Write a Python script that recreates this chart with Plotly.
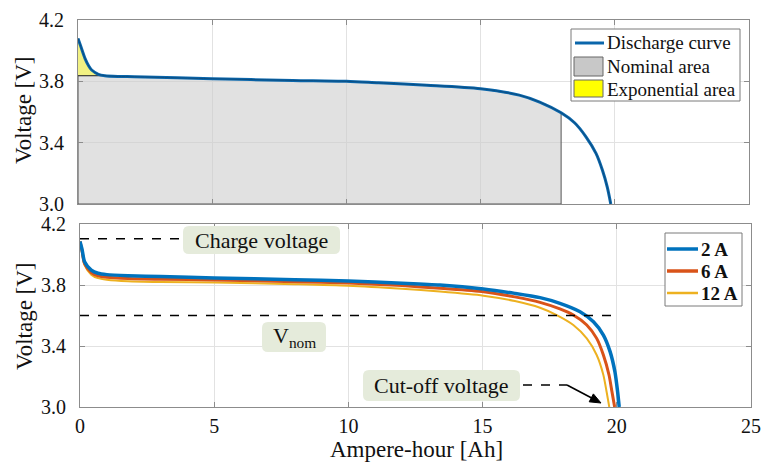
import plotly.graph_objects as go

# ---------------- data ----------------
# Top panel: discharge curve (Ah, V)
top_ah = [0.00, 0.10, 0.26, 0.40, 0.51, 0.76, 1.00, 1.50, 2.10, 5.00, 8.00, 10.00,
          11.20, 13.00, 15.00, 16.44, 17.20, 18.00, 18.50, 18.92, 19.30, 19.54, 19.72, 19.85]
top_v = [4.080, 4.030, 3.950, 3.900, 3.874, 3.846, 3.837, 3.832, 3.830, 3.817, 3.806, 3.800,
         3.790, 3.775, 3.752, 3.710, 3.665, 3.595, 3.530, 3.440, 3.330, 3.220, 3.110, 3.000]
nominal_end_ah = 18.0
exp_end_ah = 1.0
exp_level_v = 3.837
v_min = 3.0

# Bottom panel: discharge curves at different currents
ah_2a = [0.00, 0.08, 0.17, 0.42, 0.67, 1.00, 1.79, 3.00, 5.00, 8.00, 10.00, 12.00, 13.41, 15.03,
         16.20, 17.14, 17.88, 18.63, 19.13, 19.50, 19.75, 19.93, 20.03, 20.09]
v_2a = [4.085, 4.030, 3.953, 3.898, 3.877, 3.868, 3.861, 3.855, 3.846, 3.835, 3.826, 3.812, 3.800, 3.774,
        3.745, 3.717, 3.680, 3.625, 3.559, 3.472, 3.363, 3.231, 3.100, 3.000]
ah_6a = [0.00, 0.08, 0.17, 0.42, 0.67, 1.00, 1.79, 3.00, 5.00, 8.00, 10.00, 12.00, 13.41, 15.03,
         16.20, 17.14, 17.88, 18.38, 18.88, 19.25, 19.50, 19.71, 19.82, 19.92]
v_6a = [4.085, 4.020, 3.940, 3.882, 3.860, 3.851, 3.843, 3.838, 3.833, 3.822, 3.813, 3.796, 3.778, 3.756,
        3.722, 3.686, 3.643, 3.603, 3.538, 3.450, 3.341, 3.210, 3.100, 3.000]
ah_12a = [0.00, 0.08, 0.17, 0.42, 0.67, 1.00, 1.79, 3.00, 5.00, 8.00, 10.00, 12.00, 13.41, 15.03,
          16.20, 17.14, 17.76, 18.38, 18.88, 19.25, 19.50, 19.62, 19.72]
v_12a = [4.085, 4.010, 3.930, 3.868, 3.845, 3.835, 3.825, 3.820, 3.816, 3.805, 3.795, 3.775, 3.757, 3.730,
         3.695, 3.651, 3.603, 3.538, 3.450, 3.341, 3.210, 3.100, 3.000]

series_names = ["2 A", "6 A", "12 A"]
top_legend_names = ["Discharge curve", "Nominal area", "Exponential area"]

charge_v = 4.104
charge_line_end = 3.8
vnom_v = 3.6
vnom_line_end = 19.8

x_ticks = [0, 5, 10, 15, 20, 25]
y_ticks = [3.0, 3.4, 3.8, 4.2]
y_tick_text = ["3.0", "3.4", "3.8", "4.2"]

# ---------------- figure ----------------
FONT = "Liberation Serif, Times New Roman, DejaVu Serif, serif"
BLUE = "#0072BD"
ORANGE = "#D95319"
YELLOW = "#EDB120"
TXT = "#111111"
W, H = 763, 464


def px(x):
    return x / W


def py(y):
    return 1 - y / H


fig = go.Figure()

# Nominal area polygon (under curve up to nominal_end)
sel = [(a, v) for a, v in zip(top_ah, top_v) if exp_end_ah <= a <= nominal_end_ah]
nom_x = [0, 0] + [a for a, _ in sel] + [nominal_end_ah, 0]
nom_y = [v_min, exp_level_v] + [v for _, v in sel] + [v_min, v_min]
# Exponential area polygon
sel2 = [(a, v) for a, v in zip(top_ah, top_v) if a <= exp_end_ah]
exp_x = [a for a, _ in sel2] + [0]
exp_y = [v for _, v in sel2] + [exp_level_v]

fig.add_trace(go.Scatter(x=nom_x, y=nom_y, mode="lines", fill="toself",
                         fillcolor="rgba(205,205,205,0.6)", line=dict(color="#555555", width=1),
                         xaxis="x", yaxis="y", hoverinfo="skip"))
fig.add_trace(go.Scatter(x=exp_x, y=exp_y, mode="lines", fill="toself",
                         fillcolor="rgba(238,238,100,0.8)", line=dict(color="#333333", width=1),
                         xaxis="x", yaxis="y", hoverinfo="skip"))
fig.add_trace(go.Scatter(x=top_ah, y=top_v, mode="lines", name=top_legend_names[0],
                         line=dict(color="#0a66ab", width=3, shape="spline", smoothing=0.8),
                         xaxis="x", yaxis="y"))
fig.add_trace(go.Scatter(x=top_ah, y=top_v, mode="lines",
                         line=dict(color="#0b3558", width=1, shape="spline", smoothing=0.8),
                         xaxis="x", yaxis="y", opacity=0.5, hoverinfo="skip"))

# Bottom curves (draw 12A first so blue on top)
for xs, ys, nm, col, w in [(ah_12a, v_12a, series_names[2], YELLOW, 2),
                           (ah_6a, v_6a, series_names[1], ORANGE, 3),
                           (ah_2a, v_2a, series_names[0], BLUE, 3.5)]:
    fig.add_trace(go.Scatter(x=xs, y=ys, mode="lines", name=nm,
                             line=dict(color=col, width=w, shape="spline", smoothing=0.7),
                             xaxis="x2", yaxis="y2"))

GRID = "#e2e2e2"
FRAME = "#8c8c8c"
axis_common = dict(range=[0, 25], showgrid=True, gridcolor=GRID, gridwidth=1,
                   showline=True, linecolor=FRAME, linewidth=1, mirror="ticks",
                   ticks="inside", ticklen=5, tickcolor=FRAME, zeroline=False, automargin=False,
                   tickvals=x_ticks, tickfont=dict(family=FONT, size=20, color=TXT))
yaxis_common = dict(range=[3.0, 4.2], showgrid=True, gridcolor=GRID, gridwidth=1,
                    showline=True, linecolor=FRAME, linewidth=1, mirror="ticks",
                    ticks="inside", ticklen=5, tickcolor=FRAME, zeroline=False, automargin=False,
                    tickvals=y_ticks, ticktext=y_tick_text, ticklabelstandoff=9,
                    tickfont=dict(family=FONT, size=20, color=TXT))

fig.update_layout(
    width=W, height=H, margin=dict(l=0, r=0, t=0, b=0, pad=0, autoexpand=False),
    paper_bgcolor="white", plot_bgcolor="white", showlegend=False,
    font=dict(family=FONT, color=TXT),
    xaxis=dict(**axis_common, domain=[px(78), px(749)], anchor="y", showticklabels=False),
    yaxis=dict(**yaxis_common, domain=[py(204), py(20)], anchor="x"),
    xaxis2=dict(**axis_common, domain=[px(80), px(751)], anchor="y2", ticklabelstandoff=1),
    yaxis2=dict(**yaxis_common, domain=[py(407), py(224)], anchor="x2"),
)


def label(x, y, text, font, xanchor="center", angle=0):
    fig.add_annotation(xref="paper", yref="paper", x=px(x), y=py(y), text=text, textangle=angle,
                       xanchor=xanchor, yanchor="middle", showarrow=False, font=font)


# Axis titles
title_font = dict(family=FONT, size=23, color=TXT)
label(24, 110, "Voltage [V]", title_font, angle=-90)
label(24, 316, "Voltage [V]", title_font, angle=-90)
label(416, 449, "Ampere-hour [Ah]", title_font)

# Dashed reference lines
dash = dict(color="black", width=1.5, dash="dash")
fig.add_shape(type="line", xref="x2", yref="y2", x0=0, x1=charge_line_end, y0=charge_v, y1=charge_v, line=dash)
fig.add_shape(type="line", xref="x2", yref="y2", x0=0, x1=vnom_line_end, y0=vnom_v, y1=vnom_v, line=dash)
fig.add_shape(type="line", xref="paper", yref="paper", x0=px(523), x1=px(567), y0=py(385), y1=py(385), line=dash)

# Arrow (line + filled head)
ax0, ay0, tx, ty = 567, 385, 601, 403
fig.add_shape(type="line", xref="paper", yref="paper", x0=px(ax0), y0=py(ay0), x1=px(tx - 6), y1=py(ty - 3.2),
              line=dict(color="black", width=1.6))
dx, dy = tx - ax0, ty - ay0
L = (dx ** 2 + dy ** 2) ** 0.5
ux, uy = dx / L, dy / L
bx, by = tx - 11 * ux, ty - 11 * uy
c1 = (bx - 4.5 * uy, by + 4.5 * ux)
c2 = (bx + 4.5 * uy, by - 4.5 * ux)
fig.add_shape(type="path", xref="paper", yref="paper",
              path=f"M{px(tx)},{py(ty)} L{px(c1[0])},{py(c1[1])} L{px(c2[0])},{py(c2[1])} Z",
              fillcolor="black", line=dict(color="black", width=1))


# Rounded label boxes
def rbox(x0, y0, x1, y1, r=6, color="#e5ebdb"):
    rx, ry = r / W, r / H
    X0, X1, Y0, Y1 = px(x0), px(x1), py(y0), py(y1)  # Y0 top, Y1 bottom
    path = (f"M{X0 + rx},{Y0} L{X1 - rx},{Y0} Q{X1},{Y0} {X1},{Y0 - ry} "
            f"L{X1},{Y1 + ry} Q{X1},{Y1} {X1 - rx},{Y1} L{X0 + rx},{Y1} Q{X0},{Y1} {X0},{Y1 + ry} "
            f"L{X0},{Y0 - ry} Q{X0},{Y0} {X0 + rx},{Y0} Z")
    fig.add_shape(type="path", xref="paper", yref="paper", path=path, fillcolor=color,
                  line=dict(width=0), layer="above")


lab_font = dict(family=FONT, size=22, color=TXT)
rbox(183, 226, 340, 254)
label(261.5, 240, "Charge voltage", lab_font)
rbox(262, 322, 326, 352)
label(294, 337, "V<sub>nom</sub>", lab_font)
rbox(363, 370, 520, 401)
label(441.5, 385.5, "Cut-off voltage", lab_font)

# ---- top legend (drawn) ----
leg_font = dict(family=FONT, size=19, color=TXT)
fig.add_shape(type="rect", xref="paper", yref="paper", x0=px(571), x1=px(740), y0=py(29), y1=py(101),
              fillcolor="white", line=dict(color="#7a7a7a", width=1), layer="above")
fig.add_shape(type="line", xref="paper", yref="paper", x0=px(575), x1=px(604), y0=py(43), y1=py(43),
              line=dict(color="#0a66ab", width=3), layer="above")
fig.add_shape(type="rect", xref="paper", yref="paper", x0=px(574), x1=px(603), y0=py(57), y1=py(76),
              fillcolor="#c8c8c8", line=dict(color="#666666", width=1), layer="above")
fig.add_shape(type="rect", xref="paper", yref="paper", x0=px(574), x1=px(603), y0=py(80), y1=py(97),
              fillcolor="#ffff00", line=dict(color="#666666", width=1), layer="above")
for name, yc in zip(top_legend_names, [43, 66.5, 89.5]):
    label(605, yc, name, leg_font, xanchor="left")

# ---- bottom legend (drawn) ----
fig.add_shape(type="rect", xref="paper", yref="paper", x0=px(665), x1=px(742), y0=py(233), y1=py(306),
              fillcolor="white", line=dict(color="#7a7a7a", width=1), layer="above")
for name, col, w, yc in zip(series_names, [BLUE, ORANGE, YELLOW], [3.5, 3.5, 2.5], [249, 271, 293]):
    fig.add_shape(type="line", xref="paper", yref="paper", x0=px(667), x1=px(698), y0=py(yc), y1=py(yc),
                  line=dict(color=col, width=w), layer="above")
    label(699, yc, "<b>" + name + "</b>", leg_font, xanchor="left")

fig.write_html("out.html")
